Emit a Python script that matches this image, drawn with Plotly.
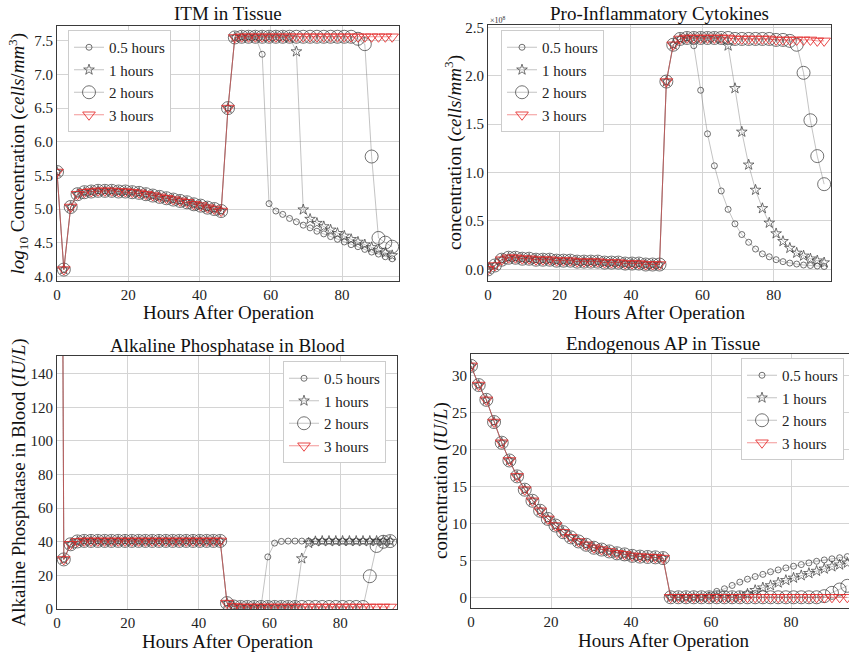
import plotly.graph_objects as go

FONT = "Liberation Serif, Times New Roman, serif"
W, H = 849, 652

hours = [0.0, 1.92, 3.84, 5.76, 7.68, 9.6, 11.52, 13.44, 15.36, 17.28,
         19.2, 21.12, 23.04, 24.96, 26.88, 28.8, 30.72, 32.64, 34.56, 36.48,
         38.4, 40.32, 42.24, 44.16, 46.08, 48.0, 49.92, 51.84, 53.76, 55.68,
         57.6, 59.52, 61.44, 63.36, 65.28, 67.2, 69.12, 71.04, 72.96, 74.88,
         76.8, 78.72, 80.64, 82.56, 84.48, 86.4, 88.32, 90.24, 92.16, 94.08]

series_names = ["0.5 hours", "1 hours", "2 hours", "3 hours"]

# ---- ITM in Tissue (log10 cells/mm^3) ----
itm_common = [5.55, 4.10, 5.03, 5.22, 5.25, 5.26, 5.27, 5.27, 5.27, 5.26,
              5.26, 5.25, 5.24, 5.22, 5.20, 5.18, 5.16, 5.14, 5.12, 5.10,
              5.07, 5.05, 5.02, 5.00, 4.97, 6.50, 7.55, 7.56, 7.56, 7.56]
itm_tail_05 = [7.30, 5.08, 4.97, 4.92, 4.86, 4.81, 4.76, 4.72, 4.67, 4.63,
               4.59, 4.55, 4.51, 4.47, 4.44, 4.40, 4.36, 4.33, 4.29, 4.26]
itm_tail_1 = [7.56, 7.56, 7.56, 7.56, 7.55, 7.34, 4.99, 4.85, 4.79, 4.74,
              4.69, 4.64, 4.60, 4.55, 4.51, 4.47, 4.43, 4.39, 4.35, 4.31]
itm_tail_2 = [7.56, 7.56, 7.56, 7.56, 7.56, 7.56, 7.56, 7.56, 7.56, 7.56,
              7.56, 7.56, 7.56, 7.56, 7.53, 7.45, 5.78, 4.57, 4.50, 4.44]
itm_tail_3 = [7.56, 7.56, 7.56, 7.56, 7.56, 7.56, 7.56, 7.56, 7.56, 7.56,
              7.56, 7.56, 7.56, 7.56, 7.56, 7.56, 7.56, 7.56, 7.56, 7.56]

# ---- Pro-Inflammatory Cytokines (x1e8 cells/mm^3) ----
cyto_common = [0.00, 0.04, 0.10, 0.12, 0.12, 0.11, 0.11, 0.10, 0.10, 0.10,
               0.09, 0.09, 0.09, 0.08, 0.08, 0.08, 0.08, 0.07, 0.07, 0.07,
               0.06, 0.06, 0.06, 0.05, 0.05, 0.05, 1.94, 2.32, 2.38, 2.39]
cyto_tail_05 = [2.31, 1.85, 1.40, 1.07, 0.81, 0.62, 0.47, 0.36, 0.28, 0.21,
                0.16, 0.13, 0.10, 0.08, 0.065, 0.055, 0.045, 0.04, 0.035, 0.03]
cyto_tail_1 = [2.39, 2.39, 2.39, 2.39, 2.38, 2.31, 1.87, 1.42, 1.08, 0.82,
               0.63, 0.48, 0.37, 0.29, 0.22, 0.17, 0.14, 0.11, 0.09, 0.07]
cyto_tail_2 = [2.39, 2.39, 2.39, 2.39, 2.39, 2.39, 2.38, 2.38, 2.38, 2.38,
               2.38, 2.38, 2.37, 2.37, 2.36, 2.32, 2.03, 1.54, 1.17, 0.88]
cyto_tail_3 = [2.39, 2.39, 2.39, 2.39, 2.39, 2.39, 2.38, 2.38, 2.38, 2.38,
               2.38, 2.38, 2.37, 2.37, 2.37, 2.37, 2.37, 2.37, 2.36, 2.36]

# ---- Alkaline Phosphatase in Blood (IU/L) ----
alp_common = [1000.0, 29.5, 38.5, 40.2, 40.5, 40.5, 40.5, 40.5, 40.5, 40.5,
              40.5, 40.5, 40.5, 40.5, 40.5, 40.5, 40.5, 40.5, 40.5, 40.5,
              40.5, 40.5, 40.5, 40.5, 40.5, 3.5, 1.5, 1.2, 1.2, 1.2]
alp_tail_05 = [1.2, 31.0, 39.2, 40.2, 40.4, 40.4, 40.4, 40.4, 40.4, 40.4,
               40.4, 40.4, 40.4, 40.4, 40.4, 40.4, 40.4, 40.4, 40.4, 40.4]
alp_tail_1 = [1.2, 1.2, 1.2, 1.2, 1.2, 1.2, 30.0, 39.2, 40.2, 40.4,
              40.4, 40.4, 40.4, 40.4, 40.4, 40.4, 40.4, 40.4, 40.4, 40.4]
alp_tail_2 = [1.2, 1.2, 1.2, 1.2, 1.2, 1.2, 1.2, 1.2, 1.2, 1.2,
              1.2, 1.2, 1.2, 1.2, 1.2, 1.2, 19.5, 37.5, 40.0, 40.4]
alp_tail_3 = [1.2, 1.2, 1.2, 1.2, 1.2, 1.2, 1.2, 1.2, 1.2, 1.2,
              1.2, 1.2, 1.2, 1.2, 1.2, 1.2, 1.2, 1.2, 1.2, 1.2]

# ---- Endogenous AP in Tissue (IU/L) ----
eap_common = [31.3, 28.7, 26.7, 23.7, 20.9, 18.5, 16.35, 14.55, 13.05, 11.7,
              10.6, 9.7, 8.8, 8.1, 7.55, 7.1, 6.7, 6.45, 6.2, 5.95,
              5.8, 5.6, 5.5, 5.45, 5.4, 5.3, 0.0, 0.0, 0.0, 0.0]
eap_tail_05 = [0.0, 0.25, 0.8, 1.15, 1.6, 2.05, 2.45, 2.8, 3.1, 3.45,
               3.7, 3.97, 4.2, 4.42, 4.65, 4.87, 5.05, 5.2, 5.35, 5.5]
eap_tail_1 = [0.0, 0.0, 0.0, 0.0, 0.0, 0.05, 0.45, 0.95, 1.3, 1.6,
              1.97, 2.3, 2.62, 2.95, 3.25, 3.55, 3.85, 4.15, 4.4, 4.65]
eap_tail_2 = [0.0, 0.0, 0.0, 0.0, 0.0, 0.0, 0.0, 0.0, 0.0, 0.0,
              0.0, 0.0, 0.0, 0.0, 0.0, 0.0, 0.15, 0.6, 1.05, 1.55]
eap_tail_3 = [0.0, 0.0, 0.0, 0.0, 0.0, 0.0, 0.0, 0.0, 0.0, 0.0,
              0.0, 0.0, 0.0, 0.0, 0.0, 0.0, 0.0, 0.0, 0.0, 0.0]

panels = [
    [itm_common + itm_tail_05, itm_common + itm_tail_1, itm_common + itm_tail_2, itm_common + itm_tail_3],
    [cyto_common + cyto_tail_05, cyto_common + cyto_tail_1, cyto_common + cyto_tail_2, cyto_common + cyto_tail_3],
    [alp_common + alp_tail_05, alp_common + alp_tail_1, alp_common + alp_tail_2, alp_common + alp_tail_3],
    [eap_common + eap_tail_05, eap_common + eap_tail_1, eap_common + eap_tail_2, eap_common + eap_tail_3],
]

titles = ["ITM in Tissue", "Pro-Inflammatory Cytokines",
          "Alkaline Phosphatase in Blood", "Endogenous AP in Tissue"]
ytitles = ["<i>log</i><sub>10</sub> Concentration (<i>cells</i>/<i>mm</i><sup>3</sup>)",
           "concentration (<i>cells</i>/<i>mm</i><sup>3</sup>)",
           "Alkaline Phosphatase in Blood (<i>IU</i>/<i>L</i>)",
           "concentration (<i>IU</i>/<i>L</i>)"]

GRAY = "rgba(60,60,60,0.72)"
GRAY_LINE = "rgba(110,110,110,0.6)"
RED = "rgba(228,40,40,0.85)"
RED_LINE = "rgba(228,40,40,0.7)"
styles = [
    dict(symbol="circle-open", size=6, color=GRAY, lc=GRAY_LINE),
    dict(symbol="star-open", size=8, color=GRAY, lc=GRAY_LINE),
    dict(symbol="circle-open", size=13, color=GRAY, lc=GRAY_LINE),
    dict(symbol="triangle-down-open", size=11, color=RED, lc=RED_LINE),
]


def px_x(v):
    return v / W


def px_y(v):
    return 1 - v / H


# plot areas in pixels (x0, x1, y_top, y_bottom)
boxes = [(57, 399, 26, 281), (488, 831, 25, 281), (57, 397, 356, 609), (471, 849, 354, 608)]
xranges = [[0, 96], [0, 96], [0, 96], [0, 94.5]]
yranges = [[3.93, 7.72], [-0.12, 2.524], [0, 150.5], [-1.45, 32.9]]
ytickvals = [[4.0, 4.5, 5.0, 5.5, 6.0, 6.5, 7.0, 7.5],
             [0.0, 0.5, 1.0, 1.5, 2.0, 2.5],
             [0, 20, 40, 60, 80, 100, 120, 140],
             [0, 5, 10, 15, 20, 25, 30]]
yfmt = [".1f", ".1f", "d", "d"]
legend_pos = [(68, 30), (501, 30), (283, 361), (741, 358)]
xtitle_y = [312, 312, 641, 640]
ytitle_x = [18, 454, 18, 441]
title_y = [14, 14, 345, 343]

fig = go.Figure()
annotations = []
layout = {}
for p in range(4):
    sfx = "" if p == 0 else str(p + 1)
    lg = "legend" if p == 0 else "legend" + str(p + 1)
    for s in range(4):
        st = styles[s]
        fig.add_trace(go.Scatter(
            x=hours, y=panels[p][s], mode="lines+markers", name=series_names[s],
            xaxis="x" + sfx, yaxis="y" + sfx, legend=lg,
            line=dict(color=st["lc"], width=0.7),
            marker=dict(symbol=st["symbol"], size=st["size"], color=st["color"],
                        line=dict(width=1, color=st["color"])),
        ))
    x0, x1, yt, yb = boxes[p]
    axis_common = dict(showline=True, linecolor="#3a3a3a", linewidth=1,
                       showgrid=True, gridcolor="#d4d4d4", gridwidth=1,
                       zeroline=False, ticks="",
                       tickfont=dict(family=FONT, size=15, color="#222"))
    layout["xaxis" + sfx] = dict(axis_common, domain=[px_x(x0), min(1.0, px_x(x1))], range=xranges[p],
                                 anchor="y" + sfx, mirror=True,
                                 tickvals=[0, 20, 40, 60, 80])
    layout["yaxis" + sfx] = dict(axis_common, domain=[px_y(yb), px_y(yt)], range=yranges[p],
                                 anchor="x" + sfx, mirror=(p != 3),
                                 tickvals=ytickvals[p], tickformat=yfmt[p])
    lx, ly = legend_pos[p]
    layout[lg] = dict(x=px_x(lx), y=px_y(ly), xanchor="left", yanchor="top",
                      bgcolor="white", bordercolor="#cccccc", borderwidth=1,
                      font=dict(family=FONT, size=15, color="#222"),
                      tracegroupgap=0)
    cx = (x0 + x1) / 2 if p != 3 else 663
    annotations.append(dict(text=titles[p], x=px_x(cx), y=px_y(title_y[p]), xref="paper", yref="paper",
                            showarrow=False, xanchor="center", yanchor="middle",
                            font=dict(family=FONT, size=19, color="#111")))
    annotations.append(dict(text="Hours After Operation", x=px_x(cx), y=px_y(xtitle_y[p]),
                            xref="paper", yref="paper", showarrow=False,
                            xanchor="center", yanchor="middle",
                            font=dict(family=FONT, size=19, color="#111")))
    annotations.append(dict(text=ytitles[p], x=px_x(ytitle_x[p]), y=px_y((yt + yb) / 2),
                            xref="paper", yref="paper", showarrow=False, textangle=-90,
                            xanchor="center", yanchor="middle",
                            font=dict(family=FONT, size=19, color="#111")))

annotations.append(dict(text="×10<sup>8</sup>", x=px_x(488), y=px_y(20), xref="paper", yref="paper",
                        showarrow=False, xanchor="left", yanchor="middle",
                        font=dict(family=FONT, size=8, color="#333")))

fig.update_layout(**layout)
fig.update_layout(width=W, height=H, margin=dict(l=0, r=0, t=0, b=0, autoexpand=False),
                  paper_bgcolor="white", plot_bgcolor="white",
                  annotations=annotations, showlegend=True)
fig.write_html("out.html", config={"displayModeBar": False},
               post_script="document.body.style.margin='0px';")
